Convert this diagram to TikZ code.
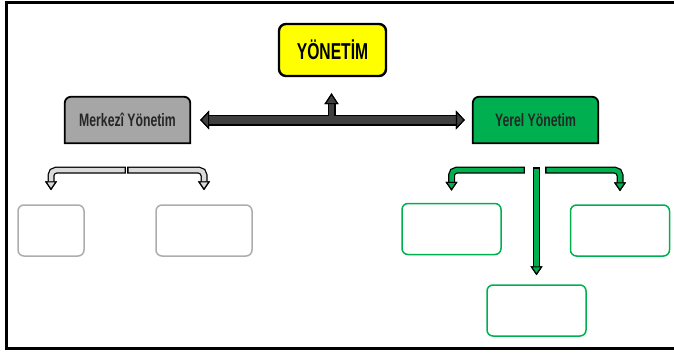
\documentclass[tikz,border=0pt]{standalone}
\usepackage{fontspec}
\setmainfont{Liberation Sans}[FakeStretch=0.68]
\usetikzlibrary{arrows.meta,calc,backgrounds}

\definecolor{sari}{HTML}{FFFF00}
\definecolor{gri}{HTML}{A6A6A6}
\definecolor{acikgri}{HTML}{ADADAD}
\definecolor{okgri}{HTML}{DADADA}
\definecolor{yesil}{HTML}{00B050}
\definecolor{koyu}{HTML}{404040}

\tikzset{
  tepe/.style={draw, line width=2.4pt, rounded corners=7pt, fill=sari, minimum width=107pt, minimum height=52pt, inner sep=0pt, font=\bfseries\fontsize{23}{25}\selectfont},
  baslik/.style={minimum width=125pt, minimum height=46pt, inner sep=0pt, text=black!85, font=\bfseries\fontsize{18}{20}\selectfont},
  bos/.style={draw=#1, line width=1.5pt, rounded corners=6pt, inner sep=0pt},
  govde/.style n args={3}{draw=#1, line width=#2, preaction={draw=black, line width=#3}},
  uc/.style n args={3}{>={Triangle[width=#2,length=#3,fill=#1,color=black,line width=1.2pt]}},
  dirsek/.style={draw=#1, line width=4.5pt, preaction={draw=black, line width=7pt, shorten <=-1.3pt}, uc={#1}{12pt}{9pt}, ->, rounded corners=5pt}
}

\begin{document}
\begin{tikzpicture}[x=1pt, y=-1pt]
	\useasboundingbox (0,0) rectangle (674,353);
	\draw[line width=3pt] (674,3) -- (6.5,3) -- (6.5,348.3) -- (674,348.3);

	\node[tepe] (yonetim) at (332.5,50) {YÖNETİM};
	\node[baslik] (merkezi) at (127.5,120) {Merkezî Yönetim};
	\node[baslik] (yerel) at (535.5,120) {Yerel Yönetim};
	\begin{scope}[on background layer]
		\foreach \k/\renk in {merkezi/gri, yerel/yesil}
			\draw[line width=1.8pt, fill=\renk] (\k.south west) [rounded corners=6pt] -- (\k.north west) -- (\k.north east) [sharp corners] -- (\k.south east) -- cycle;
	\end{scope}

	% bos kutular
	\foreach \ad/\x/\y/\g in {mk1/51/230.5/66, mk2/204/230.5/96}
		\node[bos=acikgri, minimum width=\g pt, minimum height=51pt] (\ad) at (\x,\y) {};
	\foreach \ad/\x/\y in {yr1/451.5/229, yr2/620/230.5, yr3/536.5/310.5}
		\node[bos=yesil, minimum width=99pt, minimum height=51pt] (\ad) at (\x,\y) {};

	% oklar
	\coordinate (orta) at ($(merkezi.east)!.5!(yerel.west)$);
	\draw[govde={koyu}{8pt}{11pt}, uc={koyu}{19pt}{9pt}, <->, shorten <=10pt, shorten >=8pt] (merkezi.east) -- (yerel.west);
	\draw[draw=koyu, line width=5.5pt, preaction={draw=black, line width=8pt, shorten <=4pt}, uc={koyu}{14pt}{11pt}, ->, shorten >=16pt] (orta) -- (orta |- yonetim.south);
	\draw[dirsek=okgri, shorten >=14pt] ($(merkezi.south)+(-3,27)$) -| (mk1.north);
	\draw[dirsek=okgri, shorten >=14pt] ($(merkezi.south)+(1,27)$) -| (mk2.north);
	\draw[dirsek=yesil, shorten >=12pt] ($(yerel.south)+(-12,27)$) -| (yr1.north);
	\draw[dirsek=yesil, shorten >=13pt] ($(yerel.south)+(11,27)$) -| (yr2.north);
	\draw[dirsek=yesil, shorten >=9pt] ($(yerel.south)+(1,25.5)$) -- (yr3.north);
\end{tikzpicture}
\end{document}
